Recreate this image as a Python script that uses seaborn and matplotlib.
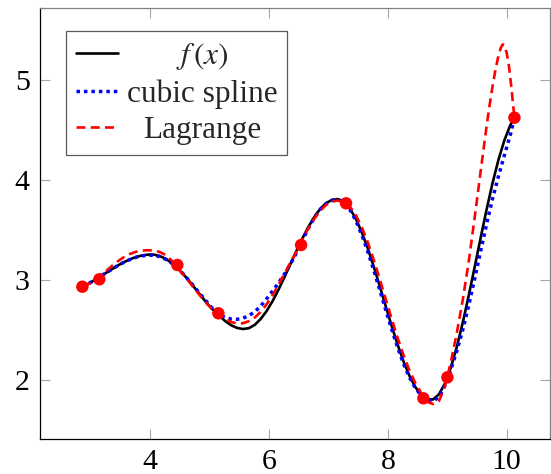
import matplotlib
matplotlib.use("Agg")
import matplotlib.pyplot as plt
import seaborn as sns
import pandas as pd

# ---------------- data ----------------
node_x = [2.857, 3.143, 4.456, 5.147, 6.539, 7.296, 8.598, 9.002, 10.13]
node_y = [2.933, 3.007, 3.150, 2.667, 3.350, 3.767, 1.817, 2.027, 4.623]

x_grid = [2.86, 2.96, 3.06, 3.16, 3.26, 3.36, 3.46, 3.56, 3.66, 3.76, 3.86, 3.96,
          4.06, 4.16, 4.26, 4.36, 4.46, 4.56, 4.66, 4.76, 4.86, 4.96, 5.06, 5.16,
          5.26, 5.36, 5.46, 5.56, 5.66, 5.76, 5.86, 5.96, 6.06, 6.16, 6.26, 6.36,
          6.46, 6.56, 6.66, 6.76, 6.86, 6.96, 7.06, 7.16, 7.26, 7.36, 7.46, 7.56,
          7.66, 7.76, 7.86, 7.96, 8.06, 8.16, 8.26, 8.36, 8.46, 8.56, 8.66, 8.76,
          8.86, 8.96, 9.06, 9.16, 9.26, 9.36, 9.46, 9.56, 9.66, 9.76, 9.86, 9.96,
          10.06, 10.13]

f_vals = [2.933, 2.963, 2.998, 3.035, 3.073, 3.110, 3.147, 3.179, 3.207, 3.230, 3.245, 3.254,
          3.254, 3.240, 3.212, 3.171, 3.118, 3.056, 2.986, 2.912, 2.838, 2.764, 2.700, 2.645,
          2.590, 2.548, 2.521, 2.510, 2.518, 2.552, 2.611, 2.691, 2.790, 2.905, 3.030, 3.160,
          3.290, 3.415, 3.529, 3.629, 3.710, 3.768, 3.802, 3.809, 3.782, 3.715, 3.613, 3.479,
          3.320, 3.139, 2.945, 2.745, 2.548, 2.361, 2.192, 2.046, 1.931, 1.850, 1.807, 1.805,
          1.857, 1.965, 2.125, 2.330, 2.573, 2.842, 3.127, 3.417, 3.700, 3.965, 4.199, 4.395,
          4.548, 4.620]

spline_vals = [2.933, 2.963, 2.998, 3.035, 3.073, 3.110, 3.146, 3.178, 3.205, 3.227, 3.241, 3.248,
               3.247, 3.234, 3.207, 3.168, 3.118, 3.058, 2.990, 2.918, 2.846, 2.776, 2.706, 2.655,
               2.625, 2.610, 2.607, 2.618, 2.643, 2.683, 2.740, 2.812, 2.890, 2.972, 3.060, 3.160,
               3.270, 3.395, 3.515, 3.622, 3.706, 3.764, 3.796, 3.802, 3.778, 3.705, 3.595, 3.452,
               3.287, 3.103, 2.907, 2.708, 2.514, 2.332, 2.168, 2.030, 1.922, 1.846, 1.800, 1.787,
               1.828, 1.945, 2.105, 2.290, 2.500, 2.745, 3.010, 3.285, 3.555, 3.808, 4.035, 4.245,
               4.450, 4.620]

lag_x = [2.86, 2.96, 3.06, 3.16, 3.26, 3.36, 3.46, 3.56, 3.66, 3.76, 3.86, 3.96,
         4.06, 4.16, 4.26, 4.36, 4.46, 4.56, 4.66, 4.76, 4.86, 4.96, 5.06, 5.16,
         5.26, 5.36, 5.46, 5.56, 5.66, 5.76, 5.86, 5.96, 6.06, 6.16, 6.26, 6.36,
         6.46, 6.56, 6.66, 6.76, 6.86, 6.96, 7.06, 7.16, 7.26, 7.36, 7.46, 7.56,
         7.66, 7.76, 7.86, 7.96, 8.06, 8.16, 8.26, 8.36, 8.46, 8.56, 8.66, 8.76,
         8.86, 8.96, 9.06, 9.16, 9.26, 9.36, 9.46, 9.56, 9.66, 9.71, 9.76, 9.81,
         9.86, 9.90, 9.93, 9.96, 10.00, 10.04, 10.08, 10.13]

lag_vals = [2.933, 2.958, 2.995, 3.043, 3.092, 3.143, 3.190, 3.230, 3.261, 3.282, 3.294, 3.298,
            3.294, 3.280, 3.250, 3.195, 3.120, 3.050, 2.978, 2.902, 2.828, 2.758, 2.698, 2.650,
            2.608, 2.580, 2.566, 2.568, 2.588, 2.625, 2.682, 2.758, 2.850, 2.955, 3.065, 3.175,
            3.285, 3.405, 3.515, 3.612, 3.692, 3.750, 3.785, 3.795, 3.775, 3.735, 3.650, 3.528,
            3.380, 3.205, 3.015, 2.815, 2.618, 2.428, 2.255, 2.100, 1.972, 1.870, 1.782, 1.760,
            1.790, 1.935, 2.180, 2.470, 2.800, 3.180, 3.620, 4.080, 4.530, 4.740, 4.930, 5.100,
            5.240, 5.320, 5.355, 5.350, 5.270, 5.130, 4.920, 4.620]

x_ticks = [4, 6, 8, 10]
y_ticks = [2, 3, 4, 5]
labels = ["$f\\,(x)$", "cubic spline", "Lagrange"]

# ---------------- styling ----------------
sns.set_style("ticks")
plt.rcParams["font.family"] = ["Liberation Serif", "DejaVu Serif"]
plt.rcParams["mathtext.fontset"] = "stix"

fig = plt.figure(figsize=(5.51, 4.74), dpi=100)
ax = fig.add_axes([40 / 551, 35 / 474, 510 / 551, 431 / 474])

curves = pd.DataFrame({"x": x_grid, "f": f_vals, "spline": spline_vals})
lag = pd.DataFrame({"x": lag_x, "y": lag_vals})
nodes = pd.DataFrame({"x": node_x, "y": node_y})

sns.lineplot(data=curves, x="x", y="f", ax=ax, color="black", lw=1.9,
             sort=False, estimator=None)
h_f = ax.lines[-1]
sns.lineplot(data=curves, x="x", y="spline", ax=ax, color="#0000ff", lw=2.5,
             sort=False, estimator=None)
h_s = ax.lines[-1]
h_s.set_dashes((1.0, 1.15))
h_s.set_dash_capstyle("butt")
sns.lineplot(data=lag, x="x", y="y", ax=ax, color="#ff0000", lw=1.9,
             sort=False, estimator=None)
h_l = ax.lines[-1]
h_l.set_dashes((3.4, 2.0))
sns.scatterplot(data=nodes, x="x", y="y", ax=ax, color="#ff0000", s=80,
                edgecolor="none", linewidth=0, zorder=5)

ax.set_xlim(2.144, 10.729)
ax.set_ylim(1.41, 5.72)
ax.set_xticks(x_ticks)
ax.set_xticklabels([str(t) for t in x_ticks])
ax.set_yticks(y_ticks)
ax.set_yticklabels([str(t) for t in y_ticks])
ax.set_xlabel("")
ax.set_ylabel("")

ax.tick_params(axis="both", which="both", direction="in", length=7.5, width=0.8,
               color="0.65", labelsize=21.5, pad=7.5, labelcolor="black",
               top=True, right=True)
for side in ["left", "bottom"]:
    ax.spines[side].set_color("black")
    ax.spines[side].set_linewidth(0.9)
for side in ["top", "right"]:
    ax.spines[side].set_visible(True)
    ax.spines[side].set_color("0.5")
    ax.spines[side].set_linewidth(0.9)

leg = ax.legend(handles=[h_f, h_s, h_l], labels=labels, loc="upper left",
                bbox_to_anchor=(0.051, 0.947), borderaxespad=0.0,
                fontsize=22.5, frameon=True, fancybox=False, framealpha=1.0,
                edgecolor="0.35", handlelength=1.36, handletextpad=0.28,
                borderpad=0.31, labelspacing=0.24)
leg.get_frame().set_linewidth(0.9)

# center the legend texts within their column, as in the reference
fig.canvas.draw()
r = fig.canvas.get_renderer()
texts = leg.get_texts()
widths = [t.get_window_extent(r).width for t in texts]
W = max(widths)
for t, w in zip(texts, widths):
    t.set_x((W - w) / 2.0)

fig.savefig("out.png", dpi=100)
